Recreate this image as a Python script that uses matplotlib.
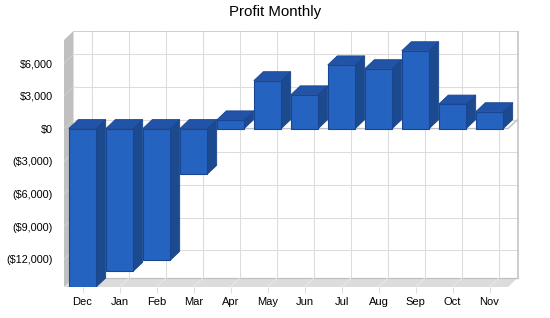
import matplotlib
matplotlib.use("Agg")
import matplotlib.pyplot as plt
from matplotlib.patches import Polygon
import numpy as np

plt.rcParams['font.family'] = ['Liberation Sans', 'DejaVu Sans']

months = ["Dec", "Jan", "Feb", "Mar", "Apr", "May", "Jun", "Jul", "Aug", "Sep", "Oct", "Nov"]
profit = [-14600, -13100, -12100, -4200, 800, 4400, 3100, 5850, 5500, 7150, 2250, 1550]
ytick_vals = [-12000, -9000, -6000, -3000, 0, 3000, 6000]
ytick_labels = ["($12,000)", "($9,000)", "($6,000)", "($3,000)", "$0", "$3,000", "$6,000"]
title = "Profit Monthly"

W, H = 550, 318
fig = plt.figure(figsize=(W / 100, H / 100), dpi=100)
L, R, T, B = 64, 519, 31, 287
ax = fig.add_axes([L / W, (H - B) / H, (R - L) / W, (B - T) / H])

px_per_cat = 37.0
ymin, ymax = -14547, 8963
px_per_val = (B - T) / (ymax - ymin)
dx = 9.5 / px_per_cat
dy = 9.0 / px_per_val
n = len(months)
x0, x1 = -0.5, n - 0.5
ax.set_xlim(x0, x0 + (R - L) / px_per_cat)
ax.set_ylim(ymin, ymax)
for s in ax.spines.values():
    s.set_visible(False)
ax.set_facecolor('none')

grid_c = '#dcdcdc'
wall_edge = '#c0c0c0'
# back wall
ax.add_patch(Polygon([(x0 + dx, ymin + dy), (x1 + dx, ymin + dy), (x1 + dx, ymax), (x0 + dx, ymax)],
                     closed=True, facecolor='white', edgecolor='none', zorder=0))
for v in ytick_vals:
    ax.plot([x0 + dx, x1 + dx], [v + dy, v + dy], color=grid_c, lw=0.75, zorder=1, solid_capstyle='butt')
for i in range(n):
    ax.plot([i + dx, i + dx], [ymin + dy, ymax], color=grid_c, lw=0.75, zorder=1, solid_capstyle='butt')
ax.plot([x0 + dx, x1 + dx, x1 + dx], [ymax, ymax, ymin + dy], color=wall_edge, lw=1.1, zorder=1)
# left wall
ax.add_patch(Polygon([(x0, ymin), (x0 + dx, ymin + dy), (x0 + dx, ymax), (x0, ymax - dy)],
                     closed=True, facecolor='#c0c0c0', edgecolor='none', zorder=1))
for v in ytick_vals:
    ax.plot([x0, x0 + dx], [v, v + dy], color='#d0d0d0', lw=0.7, zorder=1.5)
# floor
ax.add_patch(Polygon([(x0, ymin), (x1, ymin), (x1 + dx, ymin + dy), (x0 + dx, ymin + dy)],
                     closed=True, facecolor='#dcdcdc', edgecolor='none', zorder=1))
ax.plot([x0 + dx, x1 + dx], [ymin + dy, ymin + dy], color=wall_edge, lw=0.9, zorder=1.6)
for i in range(n):
    ax.plot([i, i + dx], [ymin, ymin + dy], color='#e8e8e8', lw=0.7, zorder=1.6)
# zero plane edge
ax.plot([x0, x1, x1 + dx], [0, 0, dy], color=wall_edge, lw=1, zorder=2)

# bars
w = 0.74
front_c = '#2563c0'
side_c = '#1c4a8f'
top_c = '#2154a8'
edge_c = '#1a4590'
xs = np.arange(n)
vals = np.maximum(np.array(profit, dtype=float), ymin)
for i, (xc, v) in enumerate(zip(xs, vals)):
    z = 3 + i * 0.1
    lo, hi = min(v, 0), max(v, 0)
    xl, xr = xc - w / 2, xc + w / 2
    ax.add_patch(Polygon([(xr, lo), (xr, hi), (xr + dx, hi + dy), (xr + dx, lo + dy)],
                         closed=True, facecolor=side_c, edgecolor=edge_c, lw=0.6, zorder=z))
    ax.add_patch(Polygon([(xl, hi), (xr, hi), (xr + dx, hi + dy), (xl + dx, hi + dy)],
                         closed=True, facecolor=top_c, edgecolor=edge_c, lw=0.6, zorder=z + 0.01))
    ax.bar([xc], [v], width=w, bottom=0, color=front_c, edgecolor=edge_c, lw=0.8, zorder=z + 0.02)

ax.set_xticks(xs)
ax.set_xticklabels(months, fontsize=8)
ax.set_yticks(ytick_vals)
ax.set_yticklabels(ytick_labels, fontsize=7.8)
ax.tick_params(axis='y', length=0, pad=8)
ax.tick_params(axis='x', length=4.5, width=0.7, color='#dcdcdc', pad=2.5)

fig.text(0.5, 1 - 12 / H, title, ha='center', va='center', fontsize=10.8)

fig.savefig('out.png', dpi=100)
